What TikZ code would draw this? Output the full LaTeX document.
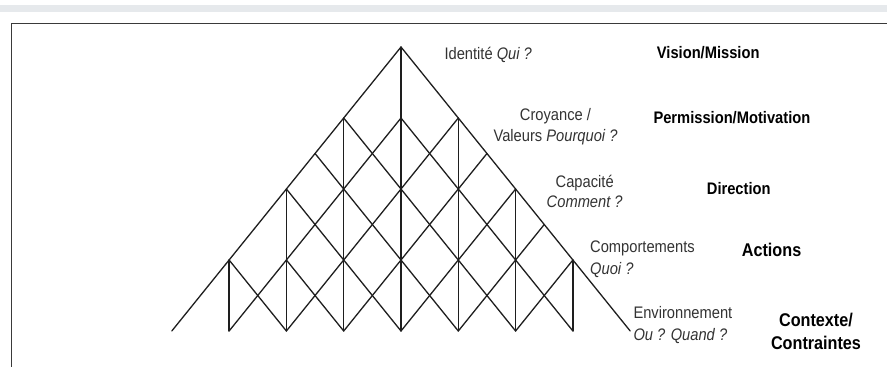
\documentclass[tikz,border=0pt]{standalone}
\usepackage{fontspec}
\setmainfont{Liberation Sans}[FakeStretch=0.88]
\definecolor{lat}{HTML}{1E1E1E}
\definecolor{txt}{HTML}{333333}
\definecolor{band}{HTML}{E6E9EC}
\definecolor{frame}{HTML}{3A3A3A}
\tikzset{
  latline/.style={draw=lat, line width=1.3pt, line cap=round, line join=round},
  reg/.style={inner sep=0pt, text=txt, font=\fontsize{16.7}{20}\selectfont},
  bld/.style={inner sep=0pt, text=black, font=\fontsize{16.7}{20}\selectfont\bfseries},
  bldbig/.style={inner sep=0pt, text=black, font=\fontsize{18.4}{22}\selectfont\bfseries},
}
\begin{document}
\begin{tikzpicture}[x=1pt,y=-1pt]
\useasboundingbox (0,0) rectangle (887,367);
% top band and frame
\fill[band] (0,5) rectangle (887,11.5);
\coordinate (fTL) at (11.7,23.3);
\coordinate (fTR) at (887,23.3);
\coordinate (fBL) at (11.7,367);
\draw[frame, line width=1.4pt] (fTR) -- (fTL) -- (fBL);
% pyramid lattice
\begin{scope}[shift={(171.8pt,-331pt)}, x=28.65pt, y=35.5pt]
  \foreach \u/\m in {0/0,2/0,4/0,6/0,8/0,10/0,12/0,14/0,16/0,
                     2/2,4/2,4/4,6/6,8/8,10/6,12/4,14/2,
                     8/6,11/5,13/3,5/5}
    \coordinate (p\u-\m) at (\u,\m);
  % outer edges
  \draw[latline] (p0-0) -- (p8-8) -- (p16-0);
  % verticals
  \foreach \u/\m in {2/2,4/4,6/6,8/8,10/6,12/4,14/2}
    \draw[latline] (p\u-0) -- (p\u-\m);
  % rising to the right
  \foreach \a/\b in {2-0/8-6,4-0/10-6,6-0/11-5,8-0/12-4,10-0/13-3,12-0/14-2}
    \draw[latline] (p\a) -- (p\b);
  % rising to the left
  \foreach \a/\b in {14-0/8-6,12-0/6-6,10-0/5-5,8-0/4-4,6-0/4-2,4-0/2-2}
    \draw[latline] (p\a) -- (p\b);
\end{scope}
% labels
\node[reg, anchor=base west] (idt) at (444.3,59.3) {Identité \textit{Qui ?}};
\node[bld, anchor=base west] (vis) at (656.7,58.3) {Vision/Mission};
\node[reg, anchor=base] (cro1) at (555.5,120.7) {Croyance /};
\node[reg, anchor=base] (cro2) at (555.5,141.7) {Valeurs \textit{Pourquoi ?}};
\node[bld, anchor=base west] (per) at (653.3,123.3) {Permission/Motivation};
\node[reg, anchor=base] (cap1) at (584.7,187.3) {Capacité};
\node[reg, anchor=base] (cap2) at (584.7,207.3) {\textit{Comment ?}};
\node[bld, anchor=base west] (dir) at (706.7,194.7) {Direction};
\node[reg, anchor=base west] (com1) at (590,252.7) {Comportements};
\node[reg, anchor=base west] (com2) at (590,274) {\textit{Quoi ?}};
\node[bldbig, anchor=base west] (act) at (741.7,256) {Actions};
\node[reg, anchor=base west] (env1) at (633.3,318.7) {Environnement};
\node[reg, anchor=base west] (env2) at (633.3,340.3) {\textit{Ou ? Quand ?}};
\node[bldbig, anchor=base] (ctx1) at (816,326.7) {Contexte/};
\node[bldbig, anchor=base] (ctx2) at (816,349.3) {Contraintes};
\end{tikzpicture}
\end{document}
